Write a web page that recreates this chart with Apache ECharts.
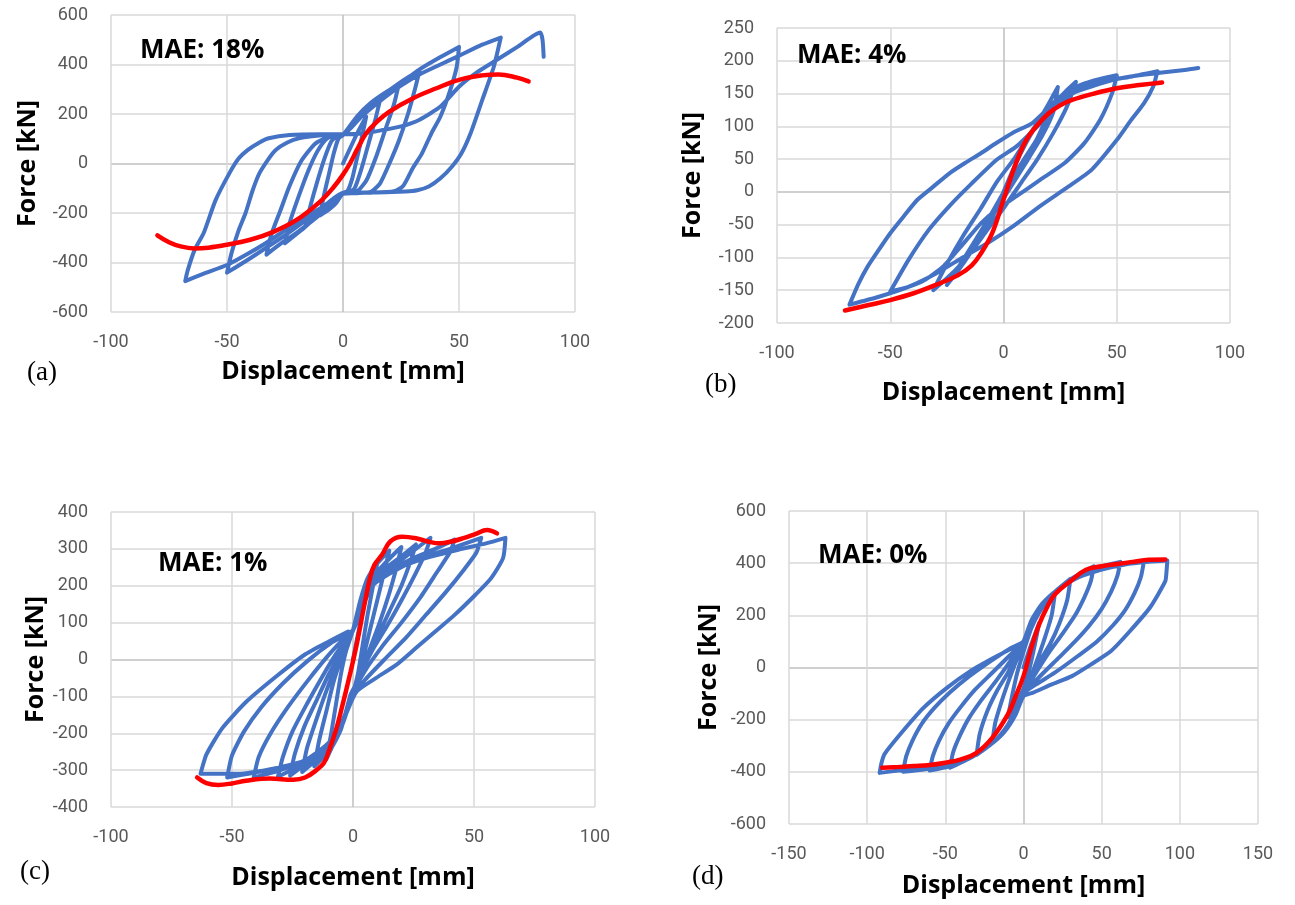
<!DOCTYPE html>
<html><head><meta charset="utf-8">
<script src="https://cdn.jsdelivr.net/npm/echarts@6/dist/echarts.min.js"></script>
<style>html,body{margin:0;padding:0;background:#fff}#c{width:1295px;height:905px}</style>
</head><body><div id="c"></div>
<script>
// ---- tick values ----
const xTicksA = [-100,-50,0,50,100];
const yTicksA = [-600,-400,-200,0,200,400,600];
const xTicksB = [-100,-50,0,50,100];
const yTicksB = [-200,-150,-100,-50,0,50,100,150,200,250];
const xTicksC = [-100,-50,0,50,100];
const yTicksC = [-400,-300,-200,-100,0,100,200,300,400];
const xTicksD = [-150,-100,-50,0,50,100,150];
const yTicksD = [-600,-400,-200,0,200,400,600];

// ---- labels ----
const panelLabels = ['(a)','(b)','(c)','(d)'];
const maeLabels = ['MAE: 18%','MAE: 4%','MAE: 1%','MAE: 0%'];
const xTitle = 'Displacement [mm]';
const yTitle = 'Force [kN]';

// ---- panel (a) ----
const aBlue = [
[0,0],[3,60],[6,120],[10,190],
[8,100],[6,20],[4,-60],[2,-110],[0,-120],
[-3,-160],[-6,-185],[-10,-210],
[-8,-120],[-6,-40],[-4,40],[-2,100],[0,115],
[5,170],[10,215],[16,258],
[14,180],[11,80],[8,-20],[5,-100],[2,-118],[0,-122],
[-5,-160],[-10,-200],[-16,-248],
[-14,-170],[-11,-70],[-8,20],[-5,90],[-2,112],[0,116],
[6,190],[12,245],[18,285],[24,318],
[22,240],[18,130],[14,20],[10,-70],[6,-112],[0,-120],
[-6,-170],[-12,-220],[-18,-270],[-25,-322],
[-23,-240],[-19,-130],[-15,-30],[-11,50],[-7,100],[-3,114],[0,116],
[4,160],[10,220],[17,275],[25,330],[33,377],
[31,300],[28,200],[24,90],[20,0],[16,-80],[12,-115],[6,-120],[0,-122],
[-6,-175],[-13,-230],[-20,-280],[-27,-325],[-33,-368],
[-31,-290],[-27,-190],[-23,-90],[-18,10],[-12,80],[-6,108],[0,116],
[8,200],[17,270],[25,325],[33,380],[42,430],[50,471],
[49,390],[46,290],[42,190],[38,120],[34,40],[30,-20],[26,-90],[22,-112],[12,-118],[0,-120],
[-8,-180],[-16,-230],[-25,-290],[-33,-340],[-42,-395],[-50,-441],
[-48,-360],[-45,-270],[-42,-200],[-39,-110],[-36,-39],[-32,20],[-29,55],[-24,85],[-19,102],[-8,115],[0,117],
[8,190],[17,260],[25,315],[33,360],[42,400],[50,435],[60,480],[68,509],
[65,391],[60,256],[55,122],[51,40],[47,-12],[42,-60],[37,-93],[32,-108],[27,-113],[15,-117],[0,-118],
[-8,-170],[-16,-215],[-25,-270],[-33,-320],[-42,-370],[-50,-410],[-60,-445],[-68,-475],
[-67,-434],[-64,-350],[-60,-280],[-55,-150],[-49,-40],[-45,20],[-41,55],[-36,85],[-32,102],[-23,115],[-10,118],[0,118],
[9,122],[17,135],[25,150],[33,177],[42,230],[50,310],[58,370],[66,417],[75,470],[85,529],[86,500],[86.5,431]
];
const aRed = [[-80,-290],[-75,-318],[-70,-335],[-64,-343],[-58,-340],[-50,-328],[-40,-308],[-30,-276],[-20,-228],[-10,-155],[-4,-95],[0,-45],[3,0],[6,55],[10,122],[15,172],[20,210],[30,263],[40,303],[50,338],[60,356],[67,360],[75,347],[80,332]];

// ---- panel (b) ----
const bBlue = [
[0,0],[5,40],[10,75],[15,105],[20,135],[24,160],
[22,122],[17,85],[10,45],[0,-10],[-8,-55],[-15,-95],[-20,-120],[-25,-142],
[-17,-99],[-7,-43],[4,23],[14.5,79],[20,120],[24,140],[28,155],[32,168],
[28,130],[22,90],[15,50],[8,15],[0,-25],[-8,-62],[-15,-95],[-22,-122],[-31,-150],
[-25,-110],[-18,-68],[-10,-25],[-3,15],[5,52],[12,90],[18,120],[25,145],[32,160],[40,170],[50,178],
[48,151],[42.7,110],[35.6,74],[27,44],[16,18],[5.6,-7],[-3,-27],[-10,-48],[-18,-80],[-27,-115],[-35,-135],[-42,-145],[-50,-152],
[-42,-104],[-33,-58],[-24,-22],[-14,13],[-3,49],[5.6,69],[15,100],[25,135],[35,160],[45,170],[55,175],[68,184],
[66,160],[62,135],[56,108],[50,79],[39,34],[28.6,8],[16,-22],[4,-53],[-7,-78],[-18,-100],[-30,-125],[-42,-145],[-55,-160],[-68,-172],
[-64,-140],[-60,-114],[-55,-88],[-50,-63],[-44,-37],[-38,-12],[-31,8],[-24,28],[-17,44],[-10,59],[-3,75],[4,90],[12.7,105],[20,128],[30,150],[40,162],[50,172],[60,178],[70,182],[80,186],[86,189]
];
const bRed = [[-70,-181],[-60,-173],[-50,-165],[-40,-155],[-30,-142],[-20,-127],[-14,-112],[-10,-94],[-5,-63],[0,-12],[5,39],[10,79],[15,102],[20,120],[25,132],[30,140],[40,150],[50,158],[60,163],[70,167]];

// ---- panel (c) ----
const cBlue = [
[0,0],[3,100],[6,190],[10,260],
[8,190],[6,120],[4,40],[2,-40],[0,-90],
[-3,-150],[-6,-200],[-11,-270],
[-9,-200],[-7,-120],[-5,-40],[-3,20],[0,80],
[3,160],[6,220],[10,260],[15,295],
[13,240],[10,160],[7,80],[4,0],[1,-70],[-1,-95],
[-2,-120],[-5,-190],[-9,-240],[-16,-290],
[-14,-220],[-11,-140],[-8,-60],[-5,0],[-2,50],[0,80],
[3,150],[6,205],[11,245],[16,280],[20,305],
[18,250],[15,180],[11,100],[7,30],[3,-40],[0,-90],
[-4,-170],[-8,-225],[-14,-265],[-21,-305],
[-19,-240],[-15,-160],[-11,-85],[-7,-20],[-3,40],[0,78],
[3,140],[7,205],[13,245],[20,280],[26,312],
[24,270],[20,200],[15,130],[10,60],[5,-10],[1,-70],[-1,-95],
[-4,-165],[-9,-225],[-16,-265],[-26,-315],
[-24,-255],[-20,-180],[-15,-110],[-10,-40],[-5,20],[0,78],
[3,135],[7,195],[14,240],[23,285],[32,330],
[30,290],[26,235],[20,160],[14,90],[8,25],[3,-40],[0,-90],
[-4,-160],[-9,-220],[-17,-270],[-24,-295],[-31,-318],
[-29,-265],[-25,-195],[-19,-120],[-13,-50],[-7,15],[0,80],
[3,130],[8,200],[15,240],[25,275],[34,300],[42,325],
[40,290],[35,240],[28,170],[20,100],[12,35],[5,-30],[0,-90],
[-4,-160],[-10,-225],[-19,-270],[-30,-300],[-41,-320],
[-39,-265],[-34,-200],[-27,-130],[-19,-60],[-11,5],[-4,55],[0,80],
[3,130],[8,200],[17,240],[28,275],[40,300],[53,330],
[51,290],[46,245],[38,180],[30,120],[22,60],[13,0],[5,-55],[0,-95],
[-4,-160],[-10,-230],[-20,-275],[-35,-300],[-52,-320],
[-50,-260],[-45,-195],[-38,-130],[-29,-65],[-19,-5],[-9,45],[0,80],
[3,130],[8,200],[18,245],[30,275],[45,300],[55,315],[63,330],
[62,275],[57,220],[50.5,175],[42,121],[34,76],[26,31],[18,-14],[9.6,-50],[1.5,-87],
[-3,-150],[-8,-225],[-18,-270],[-32,-295],[-48,-310],[-63,-310],
[-60.6,-258],[-54,-186],[-44,-114],[-31,-42],[-20,13],[-10,49],[-2,76]
];
const cRed = [[-64.4,-320],[-60.6,-335],[-55.7,-340],[-50,-336],[-44.3,-329],[-34.5,-323],[-24.7,-326],[-19.8,-320],[-14.9,-299],[-12,-280],[-10,-249],[-7,-190],[-5,-141],[-1,-33],[1.5,40],[4.7,148],[7,220],[8.8,256],[12,284],[15.4,320],[20.3,333],[26,329],[31,320],[35.8,315],[40.7,320],[45.6,329],[50.5,340],[55.4,351],[59.5,342]];

// ---- panel (d) ----
const dBlue = [
[0,0],[5,90],[10,170],[7,80],[4,0],[0,-80],[-5,-140],[-10,-190],[-7,-100],[-4,-20],[0,60],
[5,150],[10,210],[15,250],[20,280],[18,200],[14,120],[10,50],[5,-30],[0,-90],
[-5,-160],[-10,-220],[-15,-260],[-20,-290],[-18,-210],[-14,-130],[-10,-60],[-5,20],[0,90],
[5,170],[12,240],[20,290],[30,340],[28,260],[23,170],[17,90],[10,20],[4,-50],[0,-95],
[-5,-170],[-12,-240],[-20,-290],[-30,-335],[-28,-255],[-23,-165],[-17,-90],[-10,-20],[-4,50],[0,95],
[5,175],[12,245],[22,300],[32,345],[45,388],
[43,330],[39,270],[33,200],[25,130],[16,55],[8,-20],[0,-100],
[-5,-175],[-12,-245],[-22,-300],[-32,-340],[-47,-384],
[-45,-325],[-41,-265],[-35,-195],[-27,-125],[-18,-55],[-9,20],[0,100],
[5,180],[12,245],[22,300],[35,350],[48,385],[62,405],
[60,350],[56,290],[50,225],[42,160],[33,100],[23,40],[12,-25],[0,-100],
[-5,-175],[-12,-245],[-22,-300],[-35,-350],[-48,-380],[-60,-395],
[-58,-340],[-54,-280],[-48,-215],[-40,-150],[-31,-85],[-20,-20],[-9,45],[0,100],
[5,180],[12,245],[22,300],[35,345],[50,375],[63,395],[77,405],
[75,345],[71,285],[65,220],[57,160],[47,100],[35,45],[20,-20],[8,-65],[0,-100],
[-5,-175],[-12,-245],[-22,-300],[-35,-345],[-50,-375],[-63,-390],[-77,-400],
[-75,-340],[-71,-280],[-65,-215],[-57,-155],[-47,-95],[-35,-35],[-21,25],[-8,75],[0,100],
[5,180],[12,245],[22,300],[35,345],[50,375],[65,395],[80,405],[92,410],
[91.5,370],[90.7,331],[80.8,229],[68,139],[56,63],[43,11],[31,-33],[18,-65],[5.8,-97],[0,-110],
[-5,-180],[-12,-245],[-22,-300],[-35,-345],[-50,-370],[-65,-385],[-80,-395],[-92,-404],
[-91,-370],[-89,-333],[-79,-257],[-64,-155],[-49,-78],[-34,-14],[-19,37],[-7,75],[0,95]
];
const dRed = [[-90.5,-384],[-80,-381],[-70,-378],[-60,-374],[-50,-365],[-40,-352],[-30,-327],[-20,-270],[-10,-180],[-5,-110],[0,-33],[5,75],[10,165],[15,230],[20,280],[30,331],[40,375],[50,388],[60,397],[70,405],[80,413],[90.7,414]];

// ---- layout ----
const grids = [
  {left:111, top:15, width:464, height:297},
  {left:777, top:28, width:453, height:295},
  {left:111, top:512, width:484, height:295},
  {left:789, top:511, width:469, height:313}
];
const xNameGaps = [47, 57, 58, 49];
const yNameGaps = [71, 72, 58, 68];
const maePos = [[140,51],[797,56],[158,564],[818,556]];
const panelPos = [[27,373],[705,385],[20,872],[692,877]];

const xTicks = [xTicksA, xTicksB, xTicksC, xTicksD];
const yTicks = [yTicksA, yTicksB, yTicksC, yTicksD];
const blues = [aBlue, bBlue, cBlue, dBlue];
const reds = [aRed, bRed, cRed, dRed];

const lineCols = t => t.map(v => v === 0 ? '#bfbfbf' : '#d9d9d9');
const labelStyle = {color:'#595959', fontSize:18, fontFamily:'Roboto'};
const titleStyle = {color:'#000', fontSize:25, fontWeight:'bold', fontFamily:'Open Sans'};

const xAxis = [], yAxis = [], series = [], graphic = [];
for (let i = 0; i < 4; i++) {
  const xt = xTicks[i], yt = yTicks[i];
  xAxis.push({
    type:'value', gridIndex:i, min:xt[0], max:xt[xt.length-1], interval:xt[1]-xt[0],
    axisLine:{show:false, onZero:false}, axisTick:{show:false},
    splitLine:{show:true, lineStyle:{color:lineCols(xt), width:1.5}},
    axisLabel:Object.assign({margin:21}, labelStyle),
    name:xTitle, nameLocation:'middle', nameGap:xNameGaps[i], nameTextStyle:titleStyle
  });
  yAxis.push({
    type:'value', gridIndex:i, min:yt[0], max:yt[yt.length-1], interval:yt[1]-yt[0],
    axisLine:{show:false, onZero:false}, axisTick:{show:false},
    splitLine:{show:true, lineStyle:{color:lineCols(yt), width:1.5}},
    axisLabel:Object.assign({margin:23}, labelStyle),
    name:yTitle, nameLocation:'middle', nameGap:yNameGaps[i], nameTextStyle:titleStyle
  });
  series.push({
    type:'line', xAxisIndex:i, yAxisIndex:i, data:blues[i], showSymbol:false, symbol:'none',
    smooth:0.2, lineStyle:{color:'#4472c4', width:4, join:'round', cap:'round'}, silent:true, z:2
  });
  series.push({
    type:'line', xAxisIndex:i, yAxisIndex:i, data:reds[i], showSymbol:false, symbol:'none',
    smooth:0.4, lineStyle:{color:'#ff0000', width:4.5, cap:'round'}, silent:true, z:3
  });
  graphic.push({type:'text', z:100, x:maePos[i][0], y:maePos[i][1], style:{text:maeLabels[i], fontSize:26, fontWeight:'bold', fontFamily:'Open Sans', fill:'#000', verticalAlign:'middle'}});
  graphic.push({type:'text', z:100, x:panelPos[i][0], y:panelPos[i][1], style:{text:panelLabels[i], fontSize:27, fontFamily:'Liberation Serif', fill:'#000', verticalAlign:'middle'}});
}

const chart = echarts.init(document.getElementById('c'), null, {renderer:'canvas'});
chart.setOption({
  animation:false, backgroundColor:'#fff',
  grid:grids, xAxis, yAxis, series, graphic
});
</script></body></html>
